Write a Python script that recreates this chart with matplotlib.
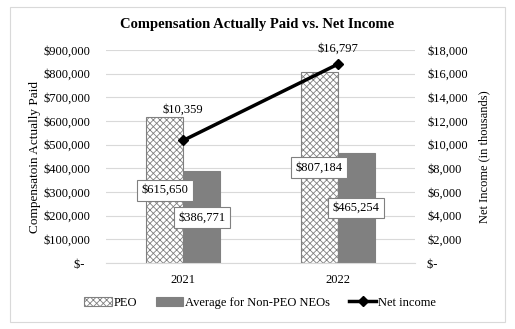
import matplotlib.pyplot as plt
from matplotlib.patches import Rectangle
from matplotlib.ticker import FuncFormatter

plt.rcParams['font.family'] = ['Liberation Serif', 'DejaVu Serif']
plt.rcParams['hatch.linewidth'] = 0.6

years = ['2021', '2022']
peo = [615650, 807184]
neo = [386771, 465254]
net_income = [10359, 16797]


def money(v, pos=None):
    if v == 0:
        return '$-  '
    return '${:,.0f}'.format(v)


fig = plt.figure(figsize=(5.15, 3.29), dpi=100)
ax = fig.add_axes([0.2058, 0.2006, 0.6, 0.6474])
ax2 = ax.twinx()

x = list(range(len(years)))
w = 0.24
grey = '#808080'

# Bars
b1 = ax.bar([i - w / 2 for i in x], peo, w, color='white', edgecolor=grey,
            hatch='xxxxx', linewidth=0.8, label='PEO', zorder=2)
b2 = ax.bar([i + w / 2 for i in x], neo, w, color=grey, edgecolor=grey,
            linewidth=0.8, label='Average for Non-PEO NEOs', zorder=2)

box = dict(boxstyle='square,pad=0.35', fc='white', ec=grey, lw=0.8)
for bars, vals in [(b1, peo), (b2, neo)]:
    for b, v in zip(bars, vals):
        ax.text(b.get_x() + b.get_width() / 2, v / 2, money(v),
                ha='center', va='center', fontsize=9, bbox=box, zorder=5)

ax.set_xlim(-0.5, 1.5)
ax.set_ylim(0, 900000)
ax.set_yticks(range(0, 900001, 100000))
ax.yaxis.set_major_formatter(FuncFormatter(money))
ax.set_xticks(x)
ax.set_xticklabels(years)
ax.grid(axis='y', color='#d9d9d9', linewidth=0.8, zorder=0)
ax.set_axisbelow(True)
for s in ['top', 'left', 'right']:
    ax.spines[s].set_visible(False)
ax.spines['bottom'].set_color('#d9d9d9')
ax.tick_params(axis='y', length=0, labelsize=9, pad=11)
ax.tick_params(axis='x', length=0, labelsize=9, pad=8)
ax.set_ylabel('Compensatoin Actually Paid', fontsize=9.5, labelpad=2)

# Net income line
ln, = ax2.plot(x, net_income, color='black', linewidth=2.5, marker='D',
               markersize=5, label='Net income', zorder=4)
offsets = [18, 7]
for i, v, off in zip(x, net_income, offsets):
    ax2.annotate(money(v), (i, v), xytext=(0, off), textcoords='offset points',
                 ha='center', va='bottom', fontsize=9)
ax2.set_ylim(0, 18000)
ax2.set_yticks(range(0, 18001, 2000))
ax2.yaxis.set_major_formatter(FuncFormatter(money))
for s in ['top', 'left', 'right', 'bottom']:
    ax2.spines[s].set_visible(False)
ax2.tick_params(length=0, labelsize=9, pad=9)
ax2.set_ylabel('Net Income (in thousands)', fontsize=9, labelpad=7)
ax2.patch.set_visible(False)

fig.suptitle('Compensation Actually Paid vs. Net Income', fontsize=10.5,
             fontweight='bold', y=0.945)

fig.legend([b1, b2, ln], ['PEO', 'Average for Non-PEO NEOs', 'Net income'],
           loc='center', bbox_to_anchor=(0.505, 0.08), ncol=3, frameon=False,
           fontsize=9, handlelength=2.2, handletextpad=0.15,
           columnspacing=1.5)

fig.patches.append(Rectangle((10 / 515, 7 / 329), 495 / 515, 315 / 329,
                             transform=fig.transFigure, fill=False,
                             edgecolor='#d9d9d9', linewidth=0.8))

fig.savefig('out.png', dpi=100)
